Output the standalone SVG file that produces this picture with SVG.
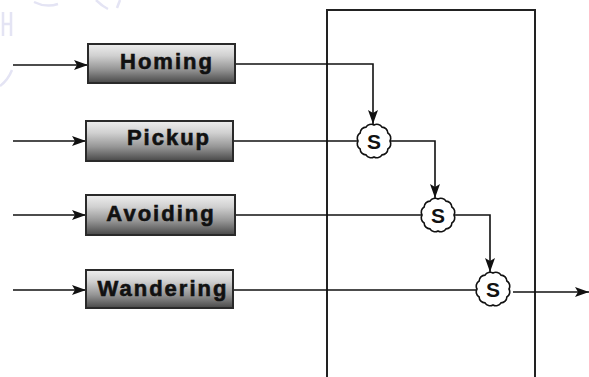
<svg xmlns="http://www.w3.org/2000/svg" width="589" height="377" viewBox="0 0 589 377">
  <style>
    .wire { fill: none; stroke: #111; stroke-width: 1.6; }
    .box rect { fill: url(#boxShade); stroke: #2a2a2a; stroke-width: 2; }
    .box text { font-family: "Liberation Sans", Arial, sans-serif; font-weight: bold; font-size: 22px; letter-spacing: 2px; fill: #111; stroke: #111; stroke-width: 0.6; text-anchor: middle; }
    .sup use { fill: #fff; stroke: #111; stroke-width: 1.6; }
    .sup text { font-family: "Liberation Sans", Arial, sans-serif; font-weight: bold; font-size: 21px; fill: #111; text-anchor: middle; }
    .frame { fill: none; stroke: #222; stroke-width: 2; }
    .mark { fill: none; stroke: #e4e4f4; stroke-width: 2.5; }
  </style>
  <defs>
    <linearGradient id="boxShade" x1="0" y1="0" x2="0" y2="1">
      <stop offset="0" stop-color="#eeeeee"/>
      <stop offset="0.3" stop-color="#d0d0d0"/>
      <stop offset="0.65" stop-color="#959595"/>
      <stop offset="1" stop-color="#484848"/>
    </linearGradient>
    <marker id="arrow" viewBox="0 0 14 11" refX="14" refY="5.5" markerWidth="14" markerHeight="11" markerUnits="userSpaceOnUse" orient="auto">
      <path d="M0,0.5 L14,5.5 L0,10.5 L3,5.5 Z" fill="#111"/>
    </marker>
    <!-- suppression node outline: a circle with a scalloped rim -->
    <path id="scallop" d="M16,0 A6,6 0 0 1 13.86,8 A6,6 0 0 1 8,13.86 A6,6 0 0 1 0,16 A6,6 0 0 1 -8,13.86 A6,6 0 0 1 -13.86,8 A6,6 0 0 1 -16,0 A6,6 0 0 1 -13.86,-8 A6,6 0 0 1 -8,-13.86 A6,6 0 0 1 0,-16 A6,6 0 0 1 8,-13.86 A6,6 0 0 1 13.86,-8 A6,6 0 0 1 16,0 Z"/>
  </defs>

  <rect width="589" height="377" fill="#fff"/>

  <!-- faint seal in the corner -->
  <g id="seal">
    <path class="mark" d="M34,2 Q46,8 58,4"/>
    <path class="mark" d="M96,0 Q102,6 108,9"/>
    <path class="mark" d="M120,0 L117,8"/>
    <path class="mark" d="M3,12 L3,36 M11,12 L11,36 M3,24 L11,24"/>
    <path class="mark" d="M0,86 Q8,80 12,70"/>
  </g>

  <!-- enclosing module outline (open at the bottom) -->
  <path id="module" class="frame" d="M327,377 L327,10 L535,10 L535,377"/>

  <g id="connectors">
    <line class="wire" x1="13" y1="65" x2="88" y2="65" marker-end="url(#arrow)"/>
    <line class="wire" x1="13" y1="141" x2="86" y2="141" marker-end="url(#arrow)"/>
    <line class="wire" x1="13" y1="215" x2="86" y2="215" marker-end="url(#arrow)"/>
    <line class="wire" x1="13" y1="290" x2="86" y2="290" marker-end="url(#arrow)"/>

    <polyline class="wire" points="235,64 373,64 373,124" marker-end="url(#arrow)"/>
    <line class="wire" x1="233" y1="141" x2="357" y2="141"/>
    <polyline class="wire" points="391,141 435,141 435,198" marker-end="url(#arrow)"/>
    <line class="wire" x1="235" y1="215" x2="421" y2="215"/>
    <polyline class="wire" points="454,215 490,215 490,272" marker-end="url(#arrow)"/>
    <line class="wire" x1="233" y1="290" x2="476" y2="290"/>
    <line class="wire" x1="513" y1="292" x2="589" y2="292" marker-end="url(#arrow)"/>
  </g>

  <g id="homing" class="box">
    <rect x="88" y="44" width="147" height="39"/>
    <text x="167" y="69">Homing</text>
  </g>
  <g id="pickup" class="box">
    <rect x="86" y="121" width="147" height="40"/>
    <text x="169" y="145">Pickup</text>
  </g>
  <g id="avoiding" class="box">
    <rect x="86" y="195" width="149" height="40"/>
    <text x="161" y="221">Avoiding</text>
  </g>
  <g id="wandering" class="box">
    <rect x="86" y="270" width="147" height="38"/>
    <text x="163" y="296">Wandering</text>
  </g>

  <g id="s1" class="sup" transform="translate(374,141)">
    <use href="#scallop"/>
    <text y="7.5">S</text>
  </g>
  <g id="s2" class="sup" transform="translate(438,215)">
    <use href="#scallop"/>
    <text y="7.5">S</text>
  </g>
  <g id="s3" class="sup" transform="translate(493,289)">
    <use href="#scallop"/>
    <text y="7.5">S</text>
  </g>
</svg>
